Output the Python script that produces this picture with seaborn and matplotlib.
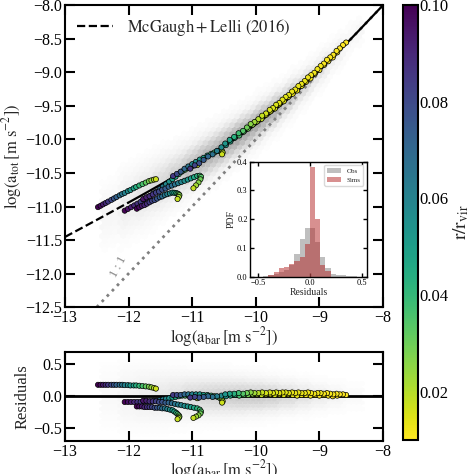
import numpy as np
import pandas as pd
import seaborn as sns
import matplotlib.pyplot as plt
from matplotlib.colors import Normalize
from matplotlib.cm import ScalarMappable

# acceleration scale of the McGaugh + Lelli (2016) relation
g_dagger = 1.2e-10

# observed cloud: bin centre, relative density, scatter (dex)
obs_x = [-12.25, -12.0, -11.75, -11.5, -11.25, -11.0, -10.75, -10.5, -10.25,
         -10.0, -9.75, -9.5, -9.25, -9.0, -8.75, -8.5]
obs_n = [0.15, 0.3, 0.4, 0.5, 0.6, 0.75, 0.85, 0.9, 0.95, 0.95, 0.9, 0.75,
         0.6, 0.45, 0.3, 0.15]
obs_s = [0.3, 0.3, 0.28, 0.26, 0.24, 0.22, 0.21, 0.2, 0.19, 0.18, 0.17, 0.16,
         0.15, 0.14, 0.13, 0.12]

# inset histograms (bin width 0.05 starting at -0.45)
hist_left = [-0.45, -0.40, -0.35, -0.30, -0.25, -0.20, -0.15, -0.10, -0.05,
             0.00, 0.05, 0.10, 0.15, 0.20, 0.25, 0.30, 0.35, 0.40]
obs_pdf = [0.003, 0.006, 0.01, 0.015, 0.025, 0.04, 0.08, 0.13, 0.17, 0.17,
           0.12, 0.07, 0.03, 0.01, 0.008, 0.005, 0.003, 0.002]
sims_pdf = [0.0, 0.008, 0.016, 0.03, 0.035, 0.043, 0.055, 0.07, 0.113, 0.38,
            0.2, 0.04, 0.02, 0.0, 0.0, 0.0, 0.0, 0.0]

# simulated rotation-curve tracks: log a_bar, residual, r/r_vir
g1_x = [-8.58, -8.63, -8.68, -8.73, -8.78, -8.83, -8.88, -8.93, -8.98, -9.03,
        -9.08, -9.13, -9.18, -9.23, -9.28, -9.33, -9.38, -9.43, -9.48, -9.53,
        -9.58, -9.63, -9.68, -9.73, -9.78, -9.84, -9.90, -9.96, -10.02, -10.08,
        -10.14, -10.20, -10.27, -10.34, -10.41, -10.48]
g1_res = [0.02, 0.03, 0.03, 0.04, 0.03, 0.04, 0.05, 0.04, 0.05, 0.05, 0.04,
          0.05, 0.06, 0.05, 0.05, 0.06, 0.05, 0.06, 0.05, 0.06, 0.06, 0.05,
          0.06, 0.05, 0.06, 0.05, 0.06, 0.05, 0.05, 0.06, 0.05, 0.04, 0.05,
          0.04, 0.04, 0.03]
g1_r = [0.010, 0.010, 0.010, 0.011, 0.011, 0.011, 0.011, 0.011, 0.012, 0.012,
        0.012, 0.012, 0.012, 0.013, 0.013, 0.013, 0.013, 0.013, 0.014, 0.014,
        0.014, 0.014, 0.015, 0.015, 0.015, 0.016, 0.018, 0.020, 0.023, 0.026,
        0.030, 0.034, 0.038, 0.043, 0.048, 0.053]

g2_x = [-8.72, -8.79, -8.86, -8.93, -9.00, -9.07, -9.14, -9.21, -9.28, -9.35,
        -9.42, -9.49, -9.56, -9.63, -9.70, -9.77, -9.84, -9.91, -9.98, -10.05,
        -10.12, -10.19, -10.26, -10.33, -10.40, -10.47, -10.54, -10.61, -10.68,
        -10.75, -10.82, -10.89, -10.96, -11.03]
g2_res = [0.01, 0.0, 0.01, 0.02, 0.01, 0.02, 0.01, 0.02, 0.02, 0.01, 0.02,
          0.03, 0.02, 0.03, 0.02, 0.03, 0.03, 0.02, 0.03, 0.03, 0.02, 0.02,
          0.01, 0.02, 0.01, 0.0, 0.01, 0.0, -0.01, 0.0, -0.01, -0.02, -0.01,
          -0.02]
g2_r = [0.010, 0.010, 0.011, 0.011, 0.011, 0.012, 0.012, 0.012, 0.013, 0.013,
        0.013, 0.014, 0.014, 0.014, 0.015, 0.015, 0.016, 0.018, 0.021, 0.025,
        0.029, 0.033, 0.037, 0.042, 0.047, 0.052, 0.057, 0.062, 0.066, 0.070,
        0.074, 0.078, 0.082, 0.086]

ta_x = [-12.48, -12.44, -12.40, -12.36, -12.32, -12.27, -12.23, -12.19,
        -12.14, -12.10, -12.06, -12.01, -11.97, -11.92, -11.88, -11.83,
        -11.78, -11.73, -11.68, -11.64, -11.60, -11.57]
ta_res = [0.18, 0.18, 0.18, 0.18, 0.18, 0.18, 0.18, 0.18, 0.18, 0.18, 0.175,
          0.175, 0.17, 0.17, 0.17, 0.165, 0.16, 0.155, 0.15, 0.14, 0.13, 0.12]
ta_r = [0.100, 0.097, 0.093, 0.089, 0.085, 0.080, 0.076, 0.072, 0.068, 0.064,
        0.060, 0.056, 0.052, 0.048, 0.044, 0.040, 0.036, 0.032, 0.028, 0.024,
        0.020, 0.017]

tb_x = [-12.06, -12.01, -11.96, -11.91, -11.86, -11.81, -11.76, -11.71,
        -11.66, -11.61, -11.56, -11.51, -11.46, -11.41, -11.36, -11.31,
        -11.26, -11.21, -11.16, -11.11, -11.06, -11.01, -10.96, -10.92]
tb_res = [-0.09, -0.09, -0.09, -0.09, -0.09, -0.09, -0.08, -0.08, -0.08,
          -0.07, -0.07, -0.06, -0.05, -0.04, -0.03, -0.02, -0.01, 0.0, 0.01,
          0.01, 0.01, 0.0, -0.01, -0.03]
tb_r = [0.100, 0.096, 0.093, 0.090, 0.087, 0.084, 0.081, 0.078, 0.075, 0.072,
        0.069, 0.066, 0.062, 0.058, 0.054, 0.050, 0.046, 0.042, 0.038, 0.034,
        0.030, 0.026, 0.022, 0.018]

tc_x = [-11.87, -11.83, -11.79, -11.75, -11.71, -11.67, -11.63, -11.59,
        -11.55, -11.51, -11.47, -11.43, -11.39, -11.35, -11.31, -11.28,
        -11.25, -11.23, -11.21, -11.20, -11.21, -11.23]
tc_res = [-0.16, -0.16, -0.16, -0.17, -0.17, -0.17, -0.17, -0.18, -0.18,
          -0.18, -0.19, -0.19, -0.2, -0.21, -0.22, -0.24, -0.26, -0.28, -0.30,
          -0.32, -0.34, -0.36]
tc_r = [0.100, 0.097, 0.094, 0.091, 0.088, 0.085, 0.082, 0.079, 0.076, 0.072,
        0.068, 0.064, 0.060, 0.056, 0.052, 0.047, 0.042, 0.037, 0.032, 0.027,
        0.022, 0.018]

td_x = [-11.77, -11.72, -11.67, -11.62, -11.57, -11.52, -11.47, -11.42,
        -11.37, -11.32, -11.27, -11.22, -11.17, -11.12, -11.07, -11.02,
        -10.97, -10.92, -10.88, -10.86, -10.87, -10.90, -10.94, -10.98]
td_res = [-0.07, -0.07, -0.08, -0.08, -0.08, -0.09, -0.09, -0.10, -0.10,
          -0.11, -0.12, -0.13, -0.14, -0.15, -0.16, -0.17, -0.18, -0.19,
          -0.21, -0.24, -0.27, -0.30, -0.32, -0.34]
td_r = [0.095, 0.092, 0.089, 0.086, 0.083, 0.080, 0.077, 0.074, 0.071, 0.068,
        0.065, 0.062, 0.059, 0.056, 0.053, 0.050, 0.046, 0.042, 0.038, 0.034,
        0.030, 0.026, 0.022, 0.018]

te_x = [-11.30, -11.24, -11.18, -11.12, -11.06, -11.00, -10.94, -10.88,
        -10.82, -10.76, -10.70, -10.65, -10.60, -10.56, -10.53, -10.52, -10.53]
te_res = [0.02, 0.02, 0.02, 0.03, 0.03, 0.03, 0.03, 0.03, 0.02, 0.02, 0.01,
          0.0, -0.01, -0.03, -0.05, -0.08, -0.10]
te_r = [0.085, 0.080, 0.075, 0.070, 0.065, 0.060, 0.056, 0.052, 0.048, 0.044,
        0.040, 0.036, 0.032, 0.028, 0.024, 0.020, 0.017]


def mcgaugh(lgb):
    gb = 10.0 ** np.asarray(lgb)
    return np.log10(gb / (1 - np.exp(-np.sqrt(gb / g_dagger))))


tracks = pd.concat([
    pd.DataFrame({'x': x, 'res': r_, 'r': r})
    for x, r_, r in [(ta_x, ta_res, ta_r), (tb_x, tb_res, tb_r),
                     (tc_x, tc_res, tc_r), (td_x, td_res, td_r),
                     (te_x, te_res, te_r), (g2_x, g2_res, g2_r),
                     (g1_x, g1_res, g1_r)]
], ignore_index=True)
tracks['y'] = mcgaugh(tracks['x']) + tracks['res']

# grid for the grey cloud of observations
gx, gr = np.meshgrid(np.arange(-12.4, -8.35, 0.02), np.arange(-0.7, 0.7, 0.02))
gx, gr = gx.ravel(), gr.ravel()
idx = np.clip(np.round((gx - obs_x[0]) / 0.25).astype(int), 0, len(obs_x) - 1)
w = np.array(obs_n)[idx] * np.exp(-0.5 * (gr / np.array(obs_s)[idx]) ** 2)
keep = w > 0.04
gx, gr, w = gx[keep], gr[keep], w[keep]

sns.set_style('ticks')
plt.rcParams['font.family'] = ['Liberation Serif', 'DejaVu Serif']
plt.rcParams['mathtext.fontset'] = 'stix'
plt.rcParams['axes.linewidth'] = 1.5
plt.rcParams['axes.edgecolor'] = 'k'
plt.rcParams['xtick.color'] = 'k'
plt.rcParams['ytick.color'] = 'k'
plt.rcParams['xtick.direction'] = 'in'
plt.rcParams['ytick.direction'] = 'in'
plt.rcParams['xtick.major.size'] = 7
plt.rcParams['ytick.major.size'] = 7
plt.rcParams['xtick.major.width'] = 1.5
plt.rcParams['ytick.major.width'] = 1.5
plt.rcParams['xtick.top'] = True
plt.rcParams['ytick.right'] = True

cmap = 'viridis_r'
norm = Normalize(0.01, 0.10)

fig = plt.figure(figsize=(4.74, 4.74), dpi=100)
ax = fig.add_axes([0.137, 0.352, 0.671, 0.637])
axr = fig.add_axes([0.137, 0.070, 0.671, 0.188])
cax = fig.add_axes([0.850, 0.072, 0.032, 0.917])
axi = fig.add_axes([0.527, 0.416, 0.247, 0.243])

xlab = r'$\log(\rm a_{bar}\,[m\ s^{-2}])$'

# main panel
ax.hexbin(gx, mcgaugh(gx) + gr, C=w, reduce_C_function=np.mean,
          gridsize=(60, 34), extent=(-13, -8, -12.5, -8), cmap='Greys',
          vmin=0, vmax=2.0, linewidths=0.2, edgecolors='face', zorder=0)
ax.plot([-12.5, -8], [-12.5, -8], ls=':', color='grey', lw=2, zorder=1)
lx_dash = np.linspace(-13, -12, 30)
lx_solid = np.linspace(-12, -8, 120)
ax.plot(lx_dash, mcgaugh(lx_dash), 'k--', lw=1.6, zorder=2,
        label=r'$\rm McGaugh + Lelli\ (2016)$')
ax.plot(lx_solid, mcgaugh(lx_solid), 'k-', lw=1.6, zorder=2)
sns.scatterplot(data=tracks, x='x', y='y', hue='r', palette=cmap,
                hue_norm=norm, s=14, edgecolor='k', linewidth=0.5,
                legend=False, ax=ax, zorder=3)
ax.text(-12.15, -11.9, '1 : 1', rotation=62, color='grey', fontsize=9,
        ha='center', va='center')
ax.set_xlim(-13, -8)
ax.set_ylim(-12.5, -8)
ax.set_xticks([-13, -12, -11, -10, -9, -8])
ax.set_yticks(np.arange(-12.5, -7.9, 0.5))
ax.set_xlabel(xlab, fontsize=12, labelpad=-1)
ax.set_ylabel(r'$\log(\rm a_{tot}\,[m\ s^{-2}])$', fontsize=12, labelpad=1)
ax.legend(loc='upper left', frameon=False, fontsize=12, handlelength=2.2,
          borderaxespad=0.3)

# residual panel
axr.hexbin(gx, gr, C=w, reduce_C_function=np.mean, gridsize=(60, 14),
           extent=(-13, -8, -0.7, 0.7), cmap='Greys', vmin=0, vmax=3.0,
           linewidths=0.2, edgecolors='face', zorder=0)
axr.axhline(0, color='k', lw=2, zorder=2)
sns.scatterplot(data=tracks, x='x', y='res', hue='r', palette=cmap,
                hue_norm=norm, s=14, edgecolor='k', linewidth=0.5,
                legend=False, ax=axr, zorder=3)
axr.set_xlim(-13, -8)
axr.set_ylim(-0.7, 0.7)
axr.set_xticks([-13, -12, -11, -10, -9, -8])
axr.set_yticks([-0.5, 0.0, 0.5])
axr.set_xlabel(xlab, fontsize=12, labelpad=-1)
axr.set_ylabel('Residuals', fontsize=12, labelpad=2)

for a in (ax, axr):
    a.tick_params(which='major', direction='in', top=True, right=True,
                  length=7, width=1.5, labelsize=11.5, pad=2)

# inset histograms
hist = pd.DataFrame({'c': np.array(hist_left) + 0.025, 'obs': obs_pdf,
                     'sims': sims_pdf})
edges = [round(v, 2) for v in hist_left] + [0.45]
sns.histplot(data=hist, x='c', weights='obs', bins=edges, color='grey',
             alpha=0.5, linewidth=0, ax=axi, label='Obs')
sns.histplot(data=hist, x='c', weights='sims', bins=edges, color='firebrick',
             alpha=0.5, linewidth=0, ax=axi, label='Sims')
axi.set_xlim(-0.58, 0.55)
axi.set_ylim(0, 0.4)
axi.set_xticks([-0.5, 0.0, 0.5])
axi.set_yticks([0.0, 0.1, 0.2, 0.3, 0.4])
axi.tick_params(direction='in', top=True, right=True, length=3, width=1,
                labelsize=6, pad=1.5)
for s in axi.spines.values():
    s.set_linewidth(1)
axi.set_xlabel('Residuals', fontsize=7, labelpad=1)
axi.set_ylabel('PDF', fontsize=7, labelpad=1)
axi.legend(loc='upper right', fontsize=5, frameon=True, framealpha=1,
           edgecolor='0.85', handlelength=2, borderpad=0.4)

# colorbar
cb = fig.colorbar(ScalarMappable(norm=norm, cmap=cmap), cax=cax)
cb.set_ticks([0.02, 0.04, 0.06, 0.08, 0.10])
cb.set_ticklabels(['0.02', '0.04', '0.06', '0.08', '0.10'])
cb.ax.tick_params(direction='in', length=5, width=1.5, labelsize=12, pad=1,
                  right=True, left=False)
cb.outline.set_linewidth(1.5)
cb.set_label(r'$\rm r/r_{vir}$', fontsize=14, labelpad=2)

plt.savefig('out.png', dpi=100)
